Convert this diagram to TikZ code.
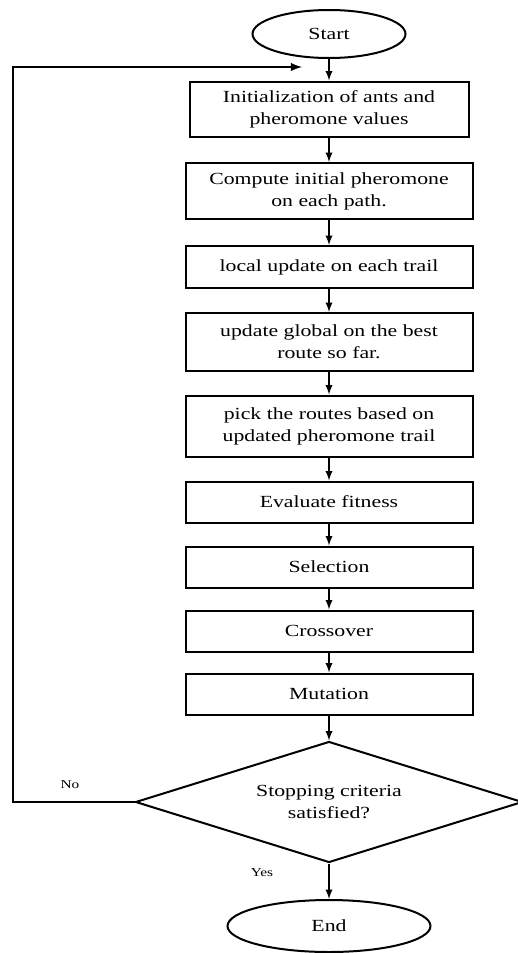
\documentclass[tikz,border=0pt]{standalone}
\usepackage{fontspec}
\setmainfont{Liberation Serif}[FakeStretch=1.28]
\usepackage{tikz}
\usetikzlibrary{shapes,arrows}
\usetikzlibrary{positioning}
\tikzstyle{block} = [draw, rectangle, line width=2pt, minimum width=287pt,
    minimum height=41pt, align=center, inner sep=2pt,
    font=\fontsize{17}{22}\selectfont]
\tikzstyle{term} = [draw, ellipse, line width=2pt, inner sep=0pt,
    font=\fontsize{17}{22}\selectfont]
\tikzstyle{decision} = [draw, diamond, aspect=3.2, line width=2pt,
    minimum width=387pt, minimum height=121pt, inner sep=0pt, align=center,
    font=\fontsize{17}{22}\selectfont]
\tikzstyle{line} = [draw, -latex, line width=2.2pt]
\tikzstyle{tag} = [font=\fontsize{12}{14}\selectfont]

\begin{document}
\begin{tikzpicture}[node distance = 75pt, auto, x=1pt, y=1pt]
  \useasboundingbox (0,0) rectangle (518,-953);
  \node [term, minimum width=153pt, minimum height=48pt] (s0) at (329,-34)
  {Start};
  \node [block, below of=s0, node distance=75pt, minimum width=279pt,
    minimum height=55pt] (s1)
  {Initialization of ants and\\pheromone values};
  \node [block, below of=s1, node distance=82pt, minimum height=56pt] (s2)
  {Compute initial pheromone\\on each path.};
  \node [block, below of=s2, node distance=76pt, minimum height=42pt] (s3)
  {local update on each trail};
  \node [block, below of=s3, node distance=75pt, minimum height=58pt] (s4)
  {update global on the best\\route so far.};
  \node [block, below of=s4, node distance=84pt, minimum height=61pt] (s5)
  {pick the routes based on\\updated pheromone trail};
  \node [block, below of=s5, node distance=76pt] (s6) {Evaluate fitness};
  \node [block, below of=s6, node distance=65pt] (s7) {Selection};
  \node [block, below of=s7, node distance=64pt] (s8) {Crossover};
  \node [block, below of=s8, node distance=63pt] (s9) {Mutation};
  \node [decision, below of=s9, node distance=108pt] (d1)
  {Stopping criteria\\satisfied?};
  \node [term, below of=d1, node distance=124pt, minimum width=203pt,
    minimum height=52pt] (s10) {End};
  \coordinate (lft) at (13,-802);
  \coordinate (back) at (302,-67);
  \node [tag] (no) at (70,-785) {No};
  \node [tag] (yes) at (262,-873) {Yes};
  \draw [line] (s0) -- (s1);
  \draw [line] (s1) -- (s2);
  \draw [line] (s2) -- (s3);
  \draw [line] (s3) -- (s4);
  \draw [line] (s4) -- (s5);
  \draw [line] (s5) -- (s6);
  \draw [line] (s6) -- (s7);
  \draw [line] (s7) -- (s8);
  \draw [line] (s8) -- (s9);
  \draw [line] (s9) -- (d1);
  \draw [line] (d1) -- (s10);
  \draw [line, line width=2.8pt] (d1.west) -- (lft) |- (back);
\end{tikzpicture}
\end{document}
